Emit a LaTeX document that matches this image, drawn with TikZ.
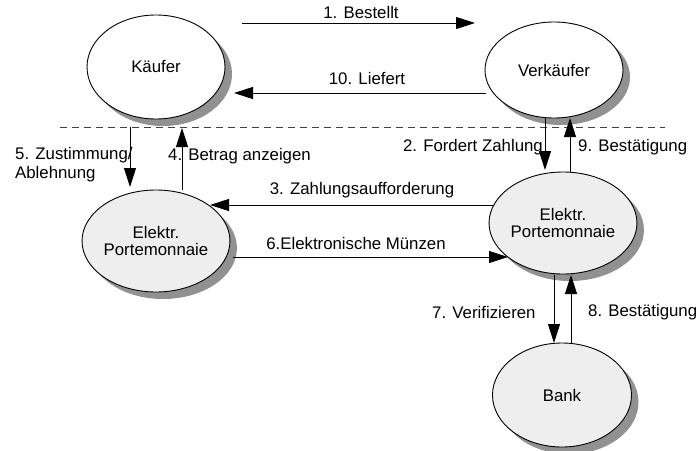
\documentclass[tikz,border=0pt]{standalone}
\usepackage{fontspec}
\setmainfont{Liberation Sans}
\usetikzlibrary{shapes.geometric,shadows,arrows.meta}
\definecolor{shadowgray}{RGB}{145,145,145}
\definecolor{pmfill}{RGB}{238,238,238}
\begin{document}
\begin{tikzpicture}[x=1pt,y=-1pt,
  every node/.style={font=\fontsize{16.8}{19}\selectfont},
  party/.style={ellipse, draw=black, line width=0.9pt, inner sep=0pt, align=center,
    drop shadow={shadow xshift=7pt, shadow yshift=-7pt, fill=shadowgray, opacity=1}},
  whiteparty/.style={party, fill=white},
  grayparty/.style={party, fill=pmfill},
  arr/.style={-{Triangle[length=19pt,width=12pt]}, line width=0.9pt},
  lbl/.style={inner sep=0pt}
]
\useasboundingbox (0,0) rectangle (699,450);
\fill[white] (0,0) rectangle (699,450);

\draw[dashed, dash pattern=on 7pt off 5pt, line width=0.6pt, black!75] (60,127) -- (665,127);

\node[whiteparty, minimum width=138pt, minimum height=104pt] (kaeufer) at (156,67) {Käufer};
\node[whiteparty, minimum width=138pt, minimum height=96pt] (verk) at (554,70) {Verkäufer};
\node[grayparty, minimum width=138pt, minimum height=102pt] (pml) at (156,241) {Elektr.\\[-2pt]Portemonnaie};
\node[grayparty, minimum width=140pt, minimum height=102pt] (pmr) at (563,223) {Elektr.\\[-2pt]Portemonnaie};
\node[grayparty, minimum width=139pt, minimum height=104pt] (bank) at (562,395) {Bank};

% 1 and 10
\draw[arr] ([shift={(86,-44)}]kaeufer.center) -- ([shift={(-79,-47)}]verk.center);
\draw[arr] ([shift={(-68,23)}]verk.center) -- ([shift={(78,26)}]kaeufer.center);
% 5 and 4
\draw[arr] ([shift={(-26,60)}]kaeufer.center) -- ([shift={(-26,-54)}]pml.center);
\draw[arr] ([shift={(26,-51)}]pml.center) -- ([shift={(26,61)}]kaeufer.center);
% 3 and 6
\draw[arr] ([shift={(-69,-18)}]pmr.center) -- ([shift={(54,-36)}]pml.center);
\draw[arr] ([shift={(77,16)}]pml.center) -- ([shift={(-55,34)}]pmr.center);
% 2 and 9
\draw[arr] ([shift={(-9,48)}]verk.center) -- ([shift={(-18,-53)}]pmr.center);
\draw[arr] ([shift={(7,-51)}]pmr.center) -- ([shift={(16,48)}]verk.center);
% 7 and 8
\draw[arr] ([shift={(-9,52)}]pmr.center) -- ([shift={(-8,-52)}]bank.center);
\draw[arr] ([shift={(9,-52)}]bank.center) -- ([shift={(8,52)}]pmr.center);

% labels
\node[lbl] (l1) at (361,12) {1. Bestellt};
\node[lbl] (l10) at (367,78) {10. Liefert};
\node[lbl, anchor=west, align=left] (l5) at (15,165) {5. Zustimmung/\\Ablehnung};
\node[lbl, anchor=west] (l4) at (168,156) {4. Betrag anzeigen};
\node[lbl] (l3) at (362,190) {3. Zahlungsaufforderung};
\node[lbl] (l6) at (356,243) {6.Elektronische Münzen};
\node[lbl, anchor=east] (l2) at (543,147) {2. Fordert Zahlung};
\node[lbl, anchor=west] (l9) at (578,147) {9. Bestätigung};
\node[lbl, anchor=west] (l7) at (432,312) {7. Verifizieren};
\node[lbl, anchor=west] (l8) at (588,312) {8. Bestätigung};
\end{tikzpicture}
\end{document}
